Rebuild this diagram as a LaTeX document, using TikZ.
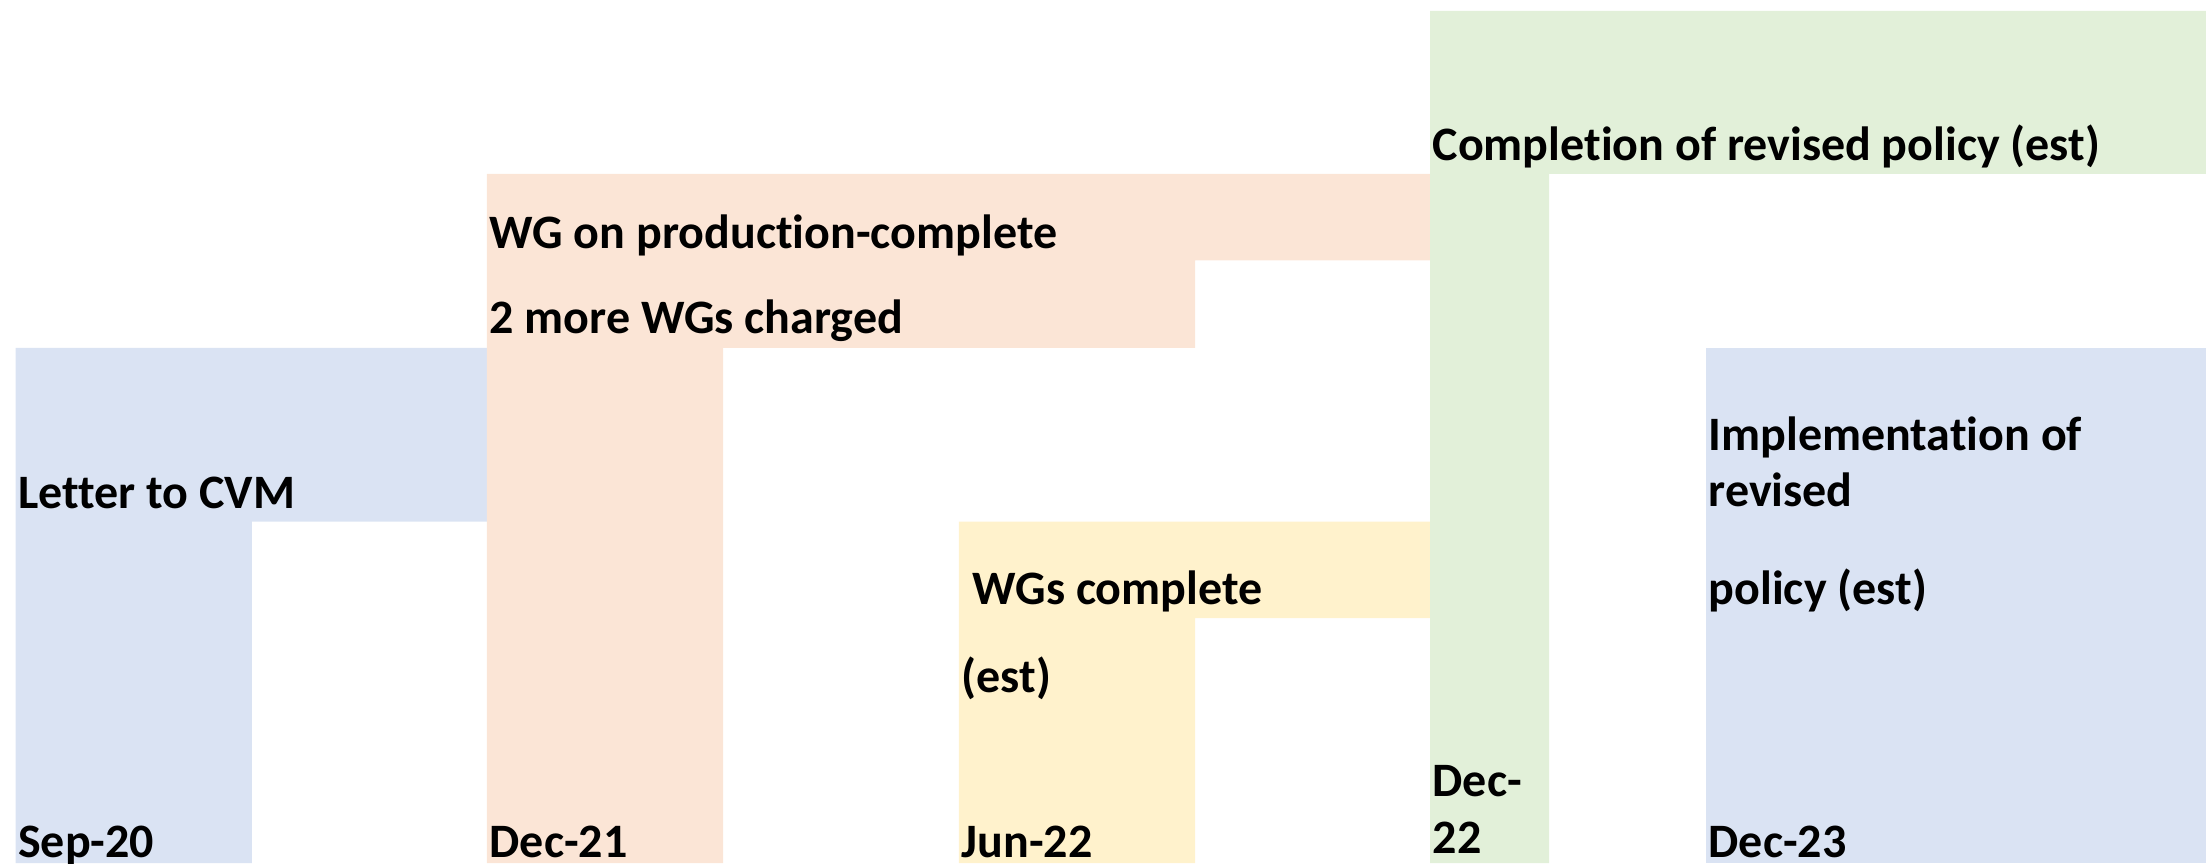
\documentclass[tikz,border=0pt]{standalone}
\usepackage{fontspec}
\setmainfont[Ligatures={NoCommon}]{Carlito}
\definecolor{cblue}{HTML}{DAE3F3}
\definecolor{corange}{HTML}{FBE5D6}
\definecolor{cyellow}{HTML}{FFF2CC}
\definecolor{cgreen}{HTML}{E2F0D9}
\begin{document}
\begin{tikzpicture}[x=1pt,y=1pt,
  lbl/.style={anchor=base west,inner sep=0pt,font=\fontsize{48}{56}\selectfont\bfseries,text=black}]
\useasboundingbox (0,0) rectangle (2206,863);
% shapes (y measured from top: Y = 863 - y)
\fill[cblue] (15.5,0) -- (15.5,515.2) -- (486.8,515.2) -- (486.8,341.3) -- (251.8,341.3) -- (251.8,0) -- cycle;
\fill[corange] (486.8,0) -- (486.8,689.1) -- (1430,689.1) -- (1430,602.7) -- (1195,602.7) -- (1195,515.2) -- (723,515.2) -- (723,0) -- cycle;
\fill[cyellow] (958.8,0) -- (958.8,341.3) -- (1430,341.3) -- (1430,245) -- (1195,245) -- (1195,0) -- cycle;
\fill[cgreen] (1430,0) -- (1430,852) -- (2206,852) -- (2206,689.1) -- (1549,689.1) -- (1549,0) -- cycle;
\fill[cblue] (1705.8,0) rectangle (2206,515.2);
% texts
\node[lbl] (t1) at (18,354) {Letter to CVM};
\node[lbl] (t2) at (18,6) {Sep-20};
\node[lbl] (t3) at (489.5,614) {WG on production-complete};
\node[lbl] (t4) at (489.5,529) {2 more WGs charged};
\node[lbl] (t5) at (489.5,6) {Dec-21};
\node[lbl] (t6) at (961.5,259) {\ WGs complete};
\node[lbl] (t7) at (961.5,171) {(est)};
\node[lbl] (t8) at (961.5,6) {Jun-22};
\node[lbl] (t9) at (1432.5,702) {Completion of revised policy (est)};
\node[lbl] (t10) at (1432.5,67) {Dec-};
\node[lbl] (t11) at (1432.5,10) {22};
\node[lbl] (t12) at (1708.5,412) {Implementation of};
\node[lbl] (t13) at (1708.5,356) {revised};
\node[lbl] (t14) at (1708.5,259) {policy (est)};
\node[lbl] (t15) at (1708.5,6) {Dec-23};
\end{tikzpicture}
\end{document}
